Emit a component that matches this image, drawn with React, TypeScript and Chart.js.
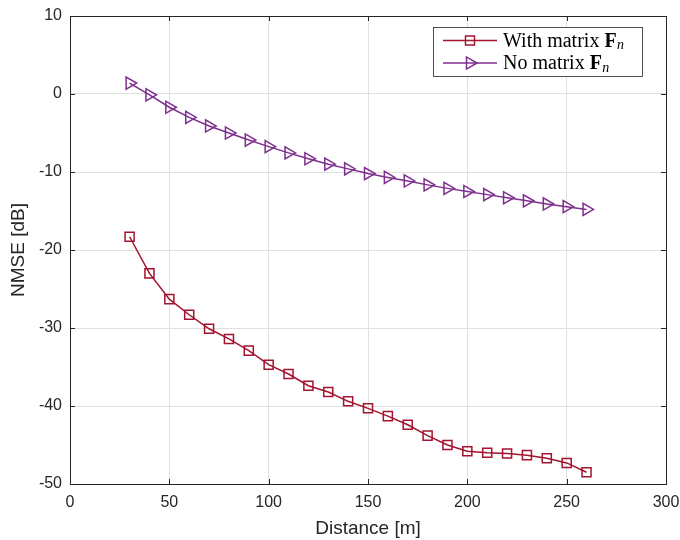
import React, { useEffect, useRef } from "react";
import { Chart, registerables } from "chart.js";

Chart.register(...registerables);

const distances = [30, 40, 50, 60, 70, 80, 90, 100, 110, 120, 130, 140, 150, 160, 170, 180, 190, 200, 210, 220, 230, 240, 250, 260];
const withMatrix = [-18.3, -23.0, -26.3, -28.3, -30.1, -31.4, -32.9, -34.7, -35.9, -37.4, -38.2, -39.4, -40.3, -41.3, -42.4, -43.8, -45.0, -45.8, -46.0, -46.1, -46.3, -46.7, -47.3, -48.5];
const noMatrix = [1.4, -0.1, -1.7, -3.0, -4.1, -5.0, -5.9, -6.75, -7.55, -8.3, -9.0, -9.6, -10.2, -10.7, -11.15, -11.65, -12.1, -12.5, -12.9, -13.3, -13.7, -14.1, -14.45, -14.8];
const xTicks = [0, 50, 100, 150, 200, 250, 300];
const yTicks = [-50, -40, -30, -20, -10, 0, 10];
const legendLabels = ["With matrix ", "No matrix "];

const RED = "#A2142F";
const PURPLE = "#7E2F8E";
const AXIS = "#262626";

const boxPlugin = {
  id: "boxAndTicks",
  afterDraw(chart: any) {
    const { ctx, chartArea: a, scales } = chart;
    ctx.save();
    ctx.strokeStyle = AXIS;
    ctx.lineWidth = 1;
    const tl = 5;
    ctx.beginPath();
    for (const v of xTicks) {
      const px = Math.round(scales.x.getPixelForValue(v)) + 0.5;
      ctx.moveTo(px, a.bottom);
      ctx.lineTo(px, a.bottom - tl);
      ctx.moveTo(px, a.top);
      ctx.lineTo(px, a.top + tl);
    }
    for (const v of yTicks) {
      const py = Math.round(scales.y.getPixelForValue(v)) + 0.5;
      ctx.moveTo(a.left, py);
      ctx.lineTo(a.left + tl, py);
      ctx.moveTo(a.right, py);
      ctx.lineTo(a.right - tl, py);
    }
    ctx.stroke();
    ctx.strokeRect(Math.round(a.left) + 0.5, Math.round(a.top) + 0.5, Math.round(a.right - a.left), Math.round(a.bottom - a.top));

    // legend
    const lx = 433.5, ly = 27.5, lw = 209, lh = 49;
    ctx.fillStyle = "#ffffff";
    ctx.fillRect(lx, ly, lw, lh);
    ctx.lineWidth = 0.8;
    ctx.strokeStyle = AXIS;
    ctx.strokeRect(lx, ly, lw, lh);
    const rows = [
      { y: 40.5, color: RED, kind: "rect", label: legendLabels[0] },
      { y: 63, color: PURPLE, kind: "tri", label: legendLabels[1] },
    ];
    for (const r of rows) {
      ctx.strokeStyle = r.color;
      ctx.lineWidth = 1.5;
      ctx.beginPath();
      ctx.moveTo(443, r.y);
      ctx.lineTo(497, r.y);
      ctx.stroke();
      const cx = 470;
      ctx.beginPath();
      if (r.kind === "rect") {
        ctx.rect(cx - 4.5, r.y - 4.5, 9, 9);
      } else {
        const rad = 7;
        let ang = Math.PI / 2;
        for (let i = 0; i < 3; i++) {
          const px = cx + Math.sin(ang) * rad;
          const py = r.y - Math.cos(ang) * rad;
          if (i === 0) ctx.moveTo(px, py); else ctx.lineTo(px, py);
          ang += (2 * Math.PI) / 3;
        }
        ctx.closePath();
      }
      ctx.stroke();
      ctx.fillStyle = "#000000";
      ctx.textBaseline = "middle";
      ctx.textAlign = "left";
      ctx.font = "20px 'Liberation Serif'";
      let tx = 503;
      ctx.fillText(r.label, tx, r.y + 1);
      tx += ctx.measureText(r.label).width;
      ctx.font = "bold 20px 'Liberation Serif'";
      ctx.fillText("F", tx, r.y + 1);
      tx += ctx.measureText("F").width;
      ctx.font = "italic 14px 'Liberation Serif'";
      ctx.fillText("n", tx + 0.5, r.y + 5);
    }
    ctx.restore();
  },
};

export default function App() {
  const ref = useRef<HTMLCanvasElement | null>(null);
  useEffect(() => {
    document.body.style.margin = "0";
    if (!ref.current) return;
    const chart = new Chart(ref.current, {
      type: "line",
      data: {
        datasets: [
          {
            label: "With matrix F_n",
            data: distances.map((d, i) => ({ x: d, y: withMatrix[i] })),
            borderColor: RED,
            backgroundColor: "rgba(0,0,0,0)",
            pointBackgroundColor: "rgba(0,0,0,0)",
            pointBorderColor: RED,
            pointStyle: "rect",
            pointRadius: 6.4,
            pointBorderWidth: 1.5,
            borderWidth: 1.5,
            tension: 0,
          },
          {
            label: "No matrix F_n",
            data: distances.map((d, i) => ({ x: d, y: noMatrix[i] })),
            borderColor: PURPLE,
            backgroundColor: "rgba(0,0,0,0)",
            pointBackgroundColor: "rgba(0,0,0,0)",
            pointBorderColor: PURPLE,
            pointStyle: "triangle",
            pointRotation: 90,
            pointRadius: 7,
            pointBorderWidth: 1.5,
            borderWidth: 1.5,
            tension: 0,
          },
        ],
      },
      options: {
        animation: false,
        responsive: false,
        maintainAspectRatio: false,
        layout: { padding: { top: 16, right: 14, left: 0, bottom: 0 } },
        plugins: { legend: { display: false }, tooltip: { enabled: false } },
        scales: {
          x: {
            type: "linear",
            min: 0,
            max: 300,
            afterBuildTicks: (s: any) => { s.ticks = xTicks.map((v) => ({ value: v })); },
            afterFit: (s: any) => { s.height = 56; s.paddingLeft = 0; s.paddingRight = 0; },
            grid: { color: "#e0e0e0", lineWidth: 1, drawTicks: false },
            border: { display: false },
            ticks: { color: AXIS, padding: 9, font: { family: "'Liberation Sans'", size: 16 } },
            title: { display: true, text: "Distance [m]", color: AXIS, padding: { top: 0, bottom: 0 }, font: { family: "'Liberation Sans'", size: 19 } },
          },
          y: {
            type: "linear",
            min: -50,
            max: 10,
            afterBuildTicks: (s: any) => { s.ticks = yTicks.map((v) => ({ value: v })); },
            afterFit: (s: any) => { s.width = 70; s.paddingTop = 0; s.paddingBottom = 0; },
            grid: { color: "#e0e0e0", lineWidth: 1, drawTicks: false },
            border: { display: false },
            ticks: { color: AXIS, padding: 8, font: { family: "'Liberation Sans'", size: 16 } },
            title: { display: true, text: "NMSE [dB]", color: AXIS, padding: { top: 7, bottom: 0 }, font: { family: "'Liberation Sans'", size: 19 } },
          },
        },
      },
      plugins: [boxPlugin],
    } as any);
    return () => chart.destroy();
  }, []);
  return (
    <div style={{ position: "absolute", left: 0, top: 0, width: 680, height: 540 }}>
      <canvas ref={ref} width={680} height={540} style={{ width: 680, height: 540, display: "block" }} />
    </div>
  );
}
